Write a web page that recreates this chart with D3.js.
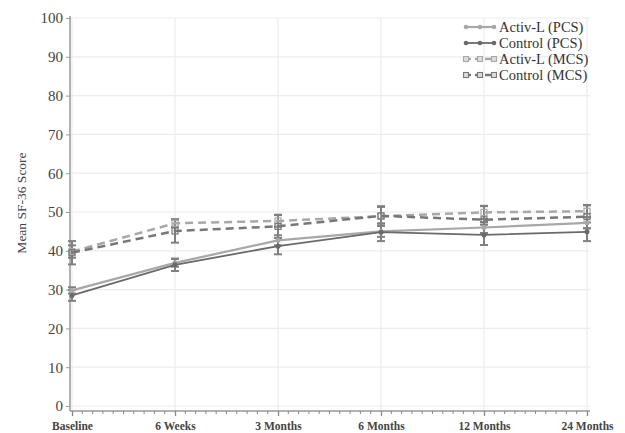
<!DOCTYPE html>
<html><head><meta charset="utf-8">
<script src="https://cdn.jsdelivr.net/npm/d3@7"></script>
<style>body{margin:0;background:#fff}svg{display:block}svg text{font-family:"Liberation Serif","Times New Roman",serif}</style>
</head><body>
<svg id="c" width="625" height="433"></svg>
<script>
const categories = ["Baseline","6 Weeks","3 Months","6 Months","12 Months","24 Months"];
const yTicks = [0,10,20,30,40,50,60,70,80,90,100];
const seriesNames = ["Activ-L (PCS)","Control (PCS)","Activ-L (MCS)","Control (MCS)"];
const activPCS = [29.8, 36.9, 42.7, 45.0, 46.0, 47.2];
const activPCSErr = [0.8, 1.0, 1.3, 1.4, 1.4, 1.4];
const controlPCS = [28.5, 36.4, 41.2, 44.8, 44.1, 44.9];
const controlPCSErr = [1.4, 1.6, 2.1, 2.3, 2.6, 2.4];
const activMCS = [39.8, 47.1, 47.7, 48.9, 49.9, 50.2];
const activMCSErr = [1.6, 1.0, 1.5, 2.4, 1.7, 1.5];
const controlMCS = [39.5, 45.1, 46.3, 49.0, 48.0, 48.8];
const controlMCSErr = [3.0, 3.0, 3.0, 2.5, 3.5, 3.0];

const series = [
  {name: seriesNames[0], vals: activPCS, err: activPCSErr, color:"#a8a8a8", dash:null, w:2.2, mark:"circle"},
  {name: seriesNames[1], vals: controlPCS, err: controlPCSErr, color:"#6a6a6a", dash:null, w:1.8, mark:"circle"},
  {name: seriesNames[2], vals: activMCS, err: activMCSErr, color:"#a8a8a8", dash:"8,5", w:2.5, mark:"square"},
  {name: seriesNames[3], vals: controlMCS, err: controlMCSErr, color:"#777777", dash:"8,5", w:2.5, mark:"square"}
];

const svg = d3.select("#c");
const x = d3.scalePoint().domain(categories).range([72, 587]);
const y = d3.scaleLinear().domain([0,100]).range([406, 18]);
const axisX0 = 70, axisY0 = 411, gridRight = 590;

// grid
svg.append("g").selectAll("line.h").data(yTicks).join("line")
  .attr("x1", axisX0).attr("x2", gridRight)
  .attr("y1", d=>y(d)).attr("y2", d=>y(d))
  .attr("stroke","#ececec").attr("stroke-width",1.2);
svg.append("g").selectAll("line.v").data(categories).join("line")
  .attr("x1", d=>x(d)).attr("x2", d=>x(d))
  .attr("y1", y(100)).attr("y2", axisY0)
  .attr("stroke","#ececec").attr("stroke-width",1.2);

// y axis
const yAxis = d3.axisLeft(y).tickValues(yTicks).tickSize(4).tickPadding(3);
const gy = svg.append("g").attr("transform",`translate(${axisX0},0)`).call(yAxis);
gy.select(".domain").attr("d", `M-0,${y(100)-2}V${axisY0}`).attr("stroke","#999").attr("stroke-width",1.5);
gy.selectAll(".tick line").attr("stroke","#999");
gy.selectAll(".tick text").attr("font-size",15).attr("fill","#444");

// x axis
const xAxis = d3.axisBottom(x).tickSize(5).tickPadding(6);
const gx = svg.append("g").attr("transform",`translate(0,${axisY0})`).call(xAxis);
gx.select(".domain").attr("d", `M${axisX0},0H${gridRight}`).attr("stroke","#999").attr("stroke-width",1.5);
gx.selectAll(".tick line").attr("stroke","#888").attr("stroke-width",1.3);
gx.selectAll(".tick text").attr("font-size",11.5)
  .attr("font-weight","bold").attr("fill","#444");
// minor ticks
const step = x.step();
const minor = [];
categories.slice(0,-1).forEach(c => { for (let i=1;i<10;i++) minor.push(x(c)+step*i/10); });
svg.append("g").selectAll("line").data(minor).join("line")
  .attr("x1",d=>d).attr("x2",d=>d).attr("y1",axisY0).attr("y2",axisY0+3)
  .attr("stroke","#888").attr("stroke-width",1);

// y title
svg.append("text").attr("transform","translate(26,203) rotate(-90)")
  .attr("text-anchor","middle")
  .attr("font-size",13.5).attr("fill","#444").text("Mean SF-36 Score");

// error bars
const eb = svg.append("g");
series.forEach(s => {
  s.vals.forEach((v,i) => {
    const cx = x(categories[i]);
    const lo = y(v - s.err[i]), hi = y(v + s.err[i]);
    eb.append("line").attr("x1",cx).attr("x2",cx).attr("y1",lo).attr("y2",hi)
      .attr("stroke","#808080").attr("stroke-width",2);
    [lo,hi].forEach(yy => eb.append("line").attr("x1",cx-4).attr("x2",cx+4)
      .attr("y1",yy).attr("y2",yy).attr("stroke","#808080").attr("stroke-width",2));
  });
});

// lines
const line = d3.line().x((d,i)=>x(categories[i])).y(d=>y(d));
series.forEach(s => {
  svg.append("path").datum(s.vals).attr("d",line).attr("fill","none")
    .attr("stroke",s.color).attr("stroke-width",s.w)
    .attr("stroke-dasharray",s.dash);
  const g = svg.append("g");
  s.vals.forEach((v,i)=>{
    if (s.mark==="circle") g.append("circle").attr("cx",x(categories[i])).attr("cy",y(v)).attr("r",2.5).attr("fill",s.color);
    else g.append("rect").attr("x",x(categories[i])-3).attr("y",y(v)-3).attr("width",6).attr("height",6)
      .attr("fill","none").attr("stroke",s.color).attr("stroke-width",1.2);
  });
});

// legend
const lg = svg.append("g");
const rowY = [27, 43, 59, 75];
series.forEach((s,k)=>{
  const yy = rowY[k];
  lg.append("line").attr("x1",465).attr("x2",495).attr("y1",yy).attr("y2",yy)
    .attr("stroke",s.color).attr("stroke-width",s.w).attr("stroke-dasharray",s.dash ? "6,4":null);
  [466,480,494].forEach(mx=>{
    if (s.mark==="circle") lg.append("circle").attr("cx",mx).attr("cy",yy).attr("r",2.3).attr("fill",s.color);
    else lg.append("rect").attr("x",mx-2.5).attr("y",yy-2.5).attr("width",5).attr("height",5)
      .attr("fill","#ddd").attr("stroke",s.color).attr("stroke-width",1.1);
  });
  lg.append("text").attr("x",499).attr("y",yy+5)
    .attr("font-size",14.5).attr("fill","#333").text(s.name);
});
</script>
</body></html>
